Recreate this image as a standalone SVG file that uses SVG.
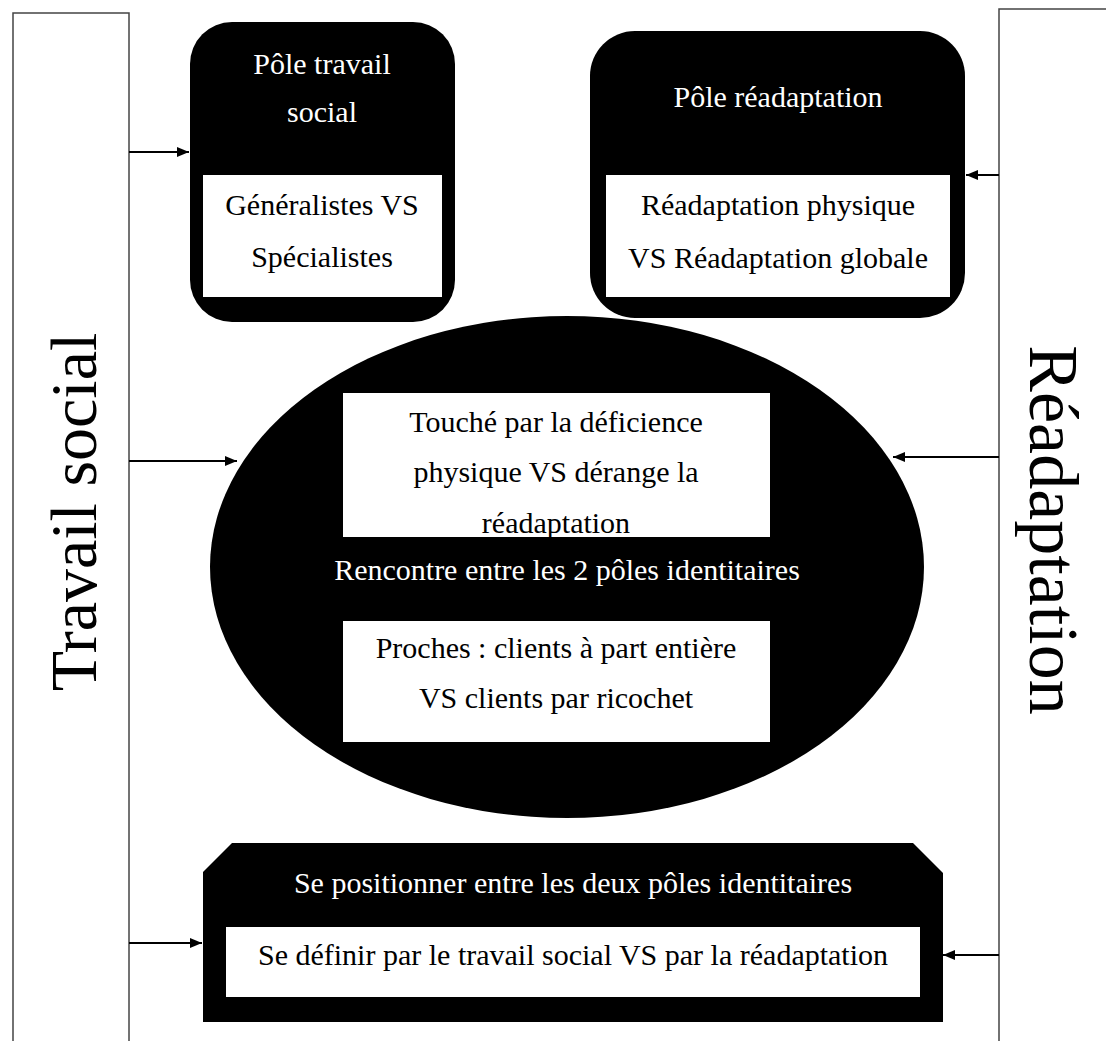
<svg xmlns="http://www.w3.org/2000/svg" width="1106" height="1041" viewBox="0 0 1106 1041">
<style>
.frame{fill:#fff;stroke:#444;stroke-width:1.5}
.blk{fill:#000}
.wht{fill:#fff}
.tw{font-family:"Liberation Serif","Times New Roman",serif;font-size:30px;fill:#fff;text-anchor:middle}
.tb{font-family:"Liberation Serif","Times New Roman",serif;font-size:30px;fill:#000;text-anchor:middle}
.big{font-family:"Liberation Serif","Times New Roman",serif;fill:#000;text-anchor:middle}
.conn{stroke:#000;stroke-width:1.8;fill:none;marker-end:url(#ah)}
</style>
<defs>
<marker id="ah" viewBox="0 0 12 10" refX="12" refY="5" markerWidth="12" markerHeight="10" markerUnits="userSpaceOnUse" orient="auto">
<path d="M0,0 L12,5 L0,10 z" fill="#000"/>
</marker>
</defs>
<rect width="1106" height="1041" fill="#fff"/>
<g id="travail-social">
<rect class="frame" x="13" y="13" width="116" height="1040"/>
<text class="big" font-size="66" transform="translate(96,512) rotate(-90)">Travail social</text>
</g>
<g id="readaptation">
<rect class="frame" x="999" y="9" width="120" height="1045"/>
<text class="big" font-size="70" transform="translate(1030,530) rotate(90)">Réadaptation</text>
</g>
<g id="pole-travail-social">
<rect class="blk" x="190" y="22" width="265" height="300" rx="42"/>
<rect class="wht" x="203" y="175" width="239" height="122"/>
<text class="tw" x="322" y="74">Pôle travail</text>
<text class="tw" x="322" y="122">social</text>
<text class="tb" x="322" y="215">Généralistes VS</text>
<text class="tb" x="322" y="267">Spécialistes</text>
</g>
<g id="pole-readaptation">
<rect class="blk" x="590" y="31" width="375" height="287" rx="45"/>
<rect class="wht" x="606" y="175" width="344" height="122"/>
<text class="tw" x="778" y="107">Pôle réadaptation</text>
<text class="tb" x="778" y="215">Réadaptation physique</text>
<text class="tb" x="778" y="268">VS Réadaptation globale</text>
</g>
<g id="rencontre">
<ellipse class="blk" cx="567" cy="567" rx="357" ry="251"/>
<rect class="wht" x="343" y="393" width="427" height="144"/>
<text class="tb" x="556" y="432">Touché par la déficience</text>
<text class="tb" x="556" y="482">physique VS dérange la</text>
<text class="tb" x="556" y="533">réadaptation</text>
<text class="tw" x="567" y="580">Rencontre entre les 2 pôles identitaires</text>
<rect class="wht" x="343" y="621" width="427" height="121"/>
<text class="tb" x="556" y="658">Proches : clients à part entière</text>
<text class="tb" x="556" y="708">VS clients par ricochet</text>
</g>
<g id="se-positionner">
<path class="blk" d="M232,843 L913,843 L943,873 L943,1022 L203,1022 L203,872 Z"/>
<rect class="wht" x="226" y="927" width="694" height="70"/>
<text class="tw" x="573" y="893">Se positionner entre les deux pôles identitaires</text>
<text class="tb" x="573" y="965">Se définir par le travail social VS par la réadaptation</text>
</g>
<g id="connectors">
<line class="conn" x1="129" y1="152" x2="189" y2="152"/>
<line class="conn" x1="999" y1="175" x2="966" y2="175"/>
<line class="conn" x1="129" y1="461" x2="237" y2="461"/>
<line class="conn" x1="999" y1="457" x2="893" y2="457"/>
<line class="conn" x1="129" y1="943" x2="202" y2="943"/>
<line class="conn" x1="999" y1="955" x2="943" y2="955"/>
</g>
</svg>
